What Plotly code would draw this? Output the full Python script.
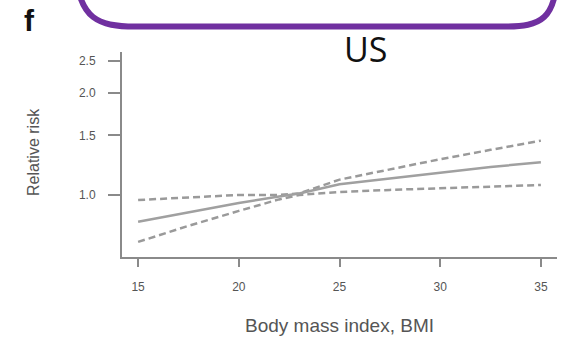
import plotly.graph_objects as go
import math

bmi = [15, 17.5, 20, 22, 23, 25, 27.5, 30, 32.5, 35]
rr_est = [0.833, 0.89, 0.947, 0.99, 1.01, 1.075, 1.12, 1.165, 1.21, 1.25]
rr_upper = [0.966, 0.983, 1.0, 1.0, 1.01, 1.11, 1.19, 1.276, 1.36, 1.448]
rr_lower = [0.726, 0.81, 0.897, 0.97, 1.0, 1.02, 1.035, 1.045, 1.058, 1.07]

x_ticks = [15, 20, 25, 30, 35]
y_ticks = [1.0, 1.5, 2.0, 2.5]
y_ticklabels = ["1.0", "1.5", "2.0", "2.5"]

W, H = 577, 337
L, R, T, B = 122, 557, 52, 257

def px(p):
    return (p - L) / (R - L)

def py(p):
    return (B - p) / (B - T)

fig = go.Figure()
line_col = "#9a9a9a"
fig.add_trace(go.Scatter(x=bmi, y=rr_upper, mode="lines",
                         line=dict(color=line_col, width=2.5, dash="7px,4px")))
fig.add_trace(go.Scatter(x=bmi, y=rr_lower, mode="lines",
                         line=dict(color=line_col, width=2.5, dash="7px,4px")))
fig.add_trace(go.Scatter(x=bmi, y=rr_est, mode="lines",
                         line=dict(color="#a0a0a0", width=2.5)))

axis_col = "#8a8a8a"
tick_font = dict(family="Liberation Sans, Arial, sans-serif", size=12, color="#555555")

fig.update_xaxes(range=[14.2, 35.8], tickvals=x_ticks, ticks="outside", ticklen=8,
                 tickwidth=2, tickcolor=axis_col, showline=True, linecolor=axis_col,
                 linewidth=2, showgrid=False, zeroline=False, tickfont=tick_font,
                 ticklabelstandoff=10)
fig.update_yaxes(type="log", range=[math.log10(0.655), math.log10(2.65)],
                 tickvals=y_ticks, ticktext=y_ticklabels, ticks="outside", ticklen=12,
                 tickwidth=2, tickcolor=axis_col, showline=True, linecolor=axis_col,
                 linewidth=2, showgrid=False, zeroline=False, tickfont=tick_font,
                 ticklabelstandoff=10)

# rounded purple box (top cut off)
path = (f"M {px(76)},{py(-30)} C {px(78)},{py(20)} {px(100)},{py(26.5)} {px(135)},{py(26.5)} "
        f"L {px(505)},{py(26.5)} "
        f"C {px(540)},{py(26.5)} {px(557)},{py(20)} {px(557)},{py(-30)}")
fig.add_shape(type="path", path=path, xref="paper", yref="paper",
              line=dict(color="#7030A0", width=6), fillcolor="white", layer="above")

annotations = [
    dict(text="<b>f</b>", x=px(29), y=py(20), xref="paper", yref="paper", showarrow=False,
         font=dict(family="Liberation Sans, Arial, sans-serif", size=30, color="#111111"),
         xanchor="center", yanchor="middle"),
    dict(text="US", x=px(365), y=py(49), xref="paper", yref="paper", showarrow=False,
         font=dict(family="Open Sans, Noto Sans, sans-serif", size=34, color="#111111"),
         xanchor="center", yanchor="middle"),
    dict(text="Relative risk", x=px(33), y=py(152), xref="paper", yref="paper",
         showarrow=False, textangle=-90,
         font=dict(family="Liberation Sans, Arial, sans-serif", size=16, color="#555555"),
         xanchor="center", yanchor="middle"),
    dict(text="Body mass index, BMI", x=px(339), y=py(325), xref="paper", yref="paper",
         showarrow=False,
         font=dict(family="Liberation Sans, Arial, sans-serif", size=19, color="#555555"),
         xanchor="center", yanchor="middle"),
]
fig.update_layout(width=W, height=H, margin=dict(l=L, r=W - R, t=T, b=H - B),
                  plot_bgcolor="white", paper_bgcolor="white", showlegend=False,
                  annotations=annotations)

fig.write_html("out.html", config={"displayModeBar": False},
               post_script="document.body.style.margin='0';document.body.style.overflow='hidden';")
